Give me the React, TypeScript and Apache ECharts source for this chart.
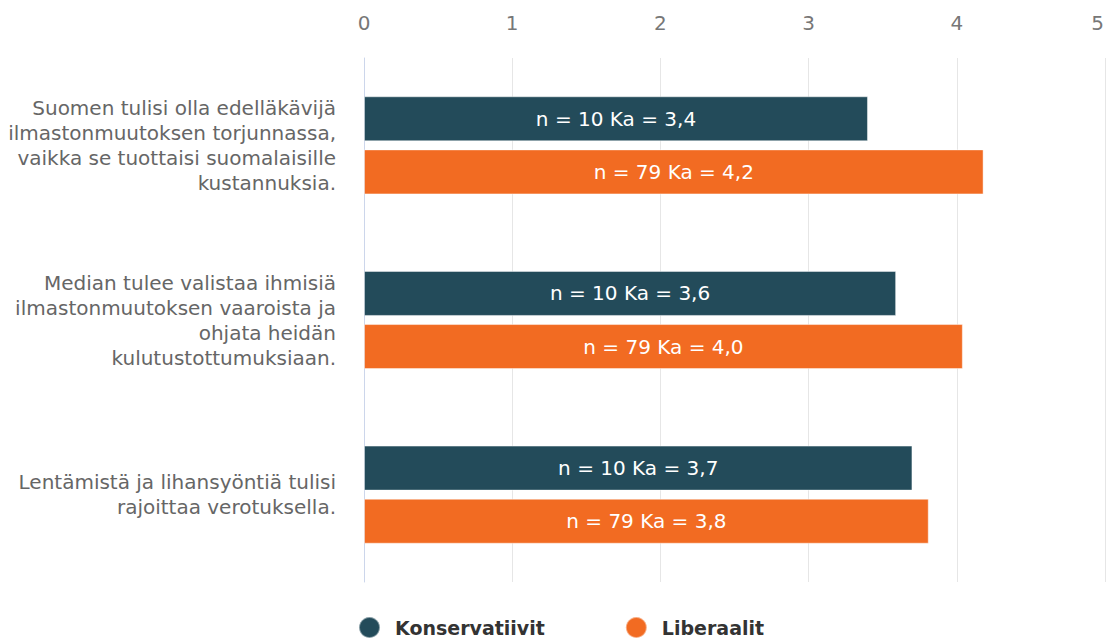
import React, { useEffect, useRef } from "react";
import * as echarts from "echarts";

const categories = [
  "Suomen tulisi olla edelläkävijä\nilmastonmuutoksen torjunnassa,\nvaikka se tuottaisi suomalaisille\nkustannuksia.",
  "Median tulee valistaa ihmisiä\nilmastonmuutoksen vaaroista ja\nohjata heidän\nkulutustottumuksiaan.",
  "Lentämistä ja lihansyöntiä tulisi\nrajoittaa verotuksella.",
];
const seriesNames = ["Konservatiivit", "Liberaalit"];
const konservatiivit = [3.4, 3.59, 3.7];
const liberaalit = [4.18, 4.04, 3.81];
const nValues = [10, 79];
const colors = ["#234b5a", "#f26b22"];
const FONT = "'DejaVu Sans', sans-serif";

const fmt = (v: number) => v.toFixed(1).replace(".", ",");

export default function App() {
  const ref = useRef<HTMLDivElement>(null);
  useEffect(() => {
    if (!ref.current) return;
    document.body.style.margin = "0";
    document.body.style.overflow = "hidden";
    const chart = echarts.init(ref.current, null, { renderer: "svg" });
    const mkSeries = (name: string, data: number[], idx: number) => ({
      name,
      type: "bar",
      data,
      barWidth: 45,
      barGap: "18%",
      itemStyle: {
        color: colors[idx],
        borderColor: "rgba(255,255,255,0.45)",
        borderWidth: 1,
      },
      label: {
        show: true,
        position: "inside",
        color: "#ffffff",
        fontSize: 20,
        fontFamily: FONT,
        formatter: (p: any) => `n = ${nValues[idx]} Ka = ${fmt(p.value)}`,
      },
    });
    chart.setOption({
      animation: false,
      textStyle: { fontFamily: FONT },
      grid: { left: 364, right: 1, top: 58, bottom: 59, containLabel: false },
      xAxis: {
        type: "value",
        position: "top",
        min: 0,
        max: 5,
        interval: 1,
        axisLine: { show: false },
        axisTick: { show: false },
        axisLabel: {
          color: "#777777",
          fontSize: 20,
          margin: 25,
          fontFamily: FONT,
          formatter: (v: number) => (v === 5 ? `{last|${v}}` : `${v}`),
          rich: {
            last: { color: "#777777", fontSize: 20, fontFamily: FONT, padding: [0, 15, 0, 0] },
          },
        },
        splitLine: { show: true, lineStyle: { color: "#e6e6e6", width: 1 } },
      },
      yAxis: {
        type: "category",
        inverse: true,
        data: categories,
        axisLine: { show: true, lineStyle: { color: "#ccd6eb", width: 1 } },
        axisTick: { show: false },
        axisLabel: {
          color: "#666666",
          fontSize: 20,
          lineHeight: 25,
          margin: 28,
          align: "right",
          fontFamily: FONT,
        },
      },
      legend: {
        data: seriesNames,
        bottom: 2,
        left: 358,
        padding: 0,
        icon: "circle",
        itemWidth: 21,
        itemHeight: 21,
        itemGap: 80,
        textStyle: {
          color: "#333333",
          fontSize: 19,
          fontWeight: "bold",
          fontFamily: FONT,
          padding: [0, 0, 0, 10],
        },
      },
      series: [
        mkSeries(seriesNames[0], konservatiivit, 0),
        mkSeries(seriesNames[1], liberaalit, 1),
      ],
    });
    return () => chart.dispose();
  }, []);
  return <div ref={ref} style={{ width: 1107, height: 641 }} />;
}
